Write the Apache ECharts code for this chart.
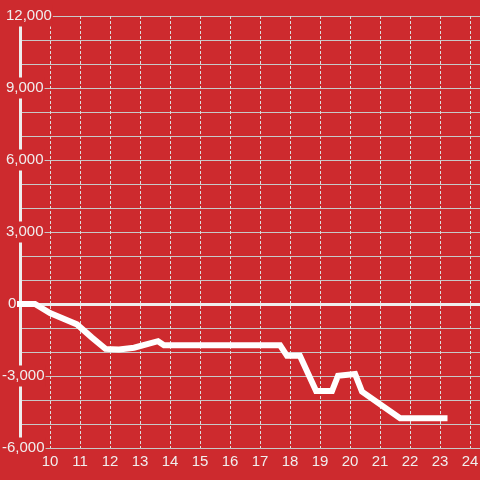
<!DOCTYPE html>
<html>
<head>
<meta charset="utf-8">
<script src="https://cdn.jsdelivr.net/npm/echarts@6/dist/echarts.min.js"></script>
<style>
html,body{margin:0;padding:0;background:#cd2a2e;}
#chart{width:480px;height:480px;}
</style>
</head>
<body>
<div id="chart"></div>
<script>
// Data
const hours  = [9, 9.5, 10, 10.9, 11.4, 11.85, 12.3, 12.8, 13.6, 13.8, 17.67, 17.9, 18.33, 18.87, 19.4, 19.6, 20.17, 20.4, 21.67, 23.15];
const values = [0, 0, -380, -850, -1400, -1870, -1900, -1820, -1550, -1720, -1720, -2160, -2160, -3625, -3625, -2990, -2920, -3650, -4760, -4760];
const xTickLabels = [10, 11, 12, 13, 14, 15, 16, 17, 18, 19, 20, 21, 22, 23, 24];
const yTickLabels = [-6000, -3000, 0, 3000, 6000, 9000, 12000];

const RED = '#cd2a2e';
const TXT = '#f0eeee';
const FONT = 'Liberation Sans';

const chart = echarts.init(document.getElementById('chart'), null, {renderer: 'canvas'});
chart.setOption({
  backgroundColor: RED,
  animation: false,
  grid: {left: 20, right: 0, top: 16, bottom: 32, containLabel: false, outerBoundsMode: 'none'},
  xAxis: {
    type: 'value',
    min: 9,
    max: 9 + 460 / 30,
    interval: 1,
    axisLine: {show: false},
    axisTick: {show: false},
    splitLine: {show: true, lineStyle: {color: '#dddddd', width: 1, type: [3, 2]}},
    axisLabel: {
      color: TXT, fontSize: 15, fontFamily: FONT, margin: 6,
      formatter: function (v) { return xTickLabels.indexOf(v) >= 0 ? String(v) : ''; }
    }
  },
  yAxis: {
    type: 'value',
    min: -6000,
    max: 12000,
    interval: 1000,
    axisLine: {show: true, lineStyle: {color: '#eeeeee', width: 3}},
    axisTick: {show: false},
    splitLine: {show: true, lineStyle: {color: '#c8c8c8', width: 1}},
    axisLabel: {
      align: 'left', margin: 18,
      formatter: function (v) {
        if (yTickLabels.indexOf(v) < 0) return '';
        const s = v.toLocaleString('en-US');
        const key = v > 0 ? 'pos' : (v === 0 ? 'zero' : 'neg');
        return '{' + key + '|' + s + '}';
      },
      rich: {
        pos:  {color: TXT, fontSize: 15, fontFamily: FONT, backgroundColor: RED, padding: [3, 1, 3, 4]},
        zero: {color: TXT, fontSize: 15, fontFamily: FONT, backgroundColor: RED, padding: [3, 1, 3, 6]},
        neg:  {color: TXT, fontSize: 15, fontFamily: FONT, backgroundColor: RED, padding: [3, 1, 3, 0]}
      }
    }
  },
  series: [{
    type: 'line',
    data: hours.map((h, i) => [h, values[i]]),
    showSymbol: false,
    symbol: 'none',
    lineStyle: {color: '#ffffff', width: 6, cap: 'square', join: 'miter'},
    markLine: {
      silent: true,
      symbol: 'none',
      label: {show: false},
      lineStyle: {color: '#eeeeee', width: 3, type: 'solid'},
      data: [{yAxis: 0}],
      z: 1
    },
    z: 3
  }]
});
</script>
</body>
</html>
